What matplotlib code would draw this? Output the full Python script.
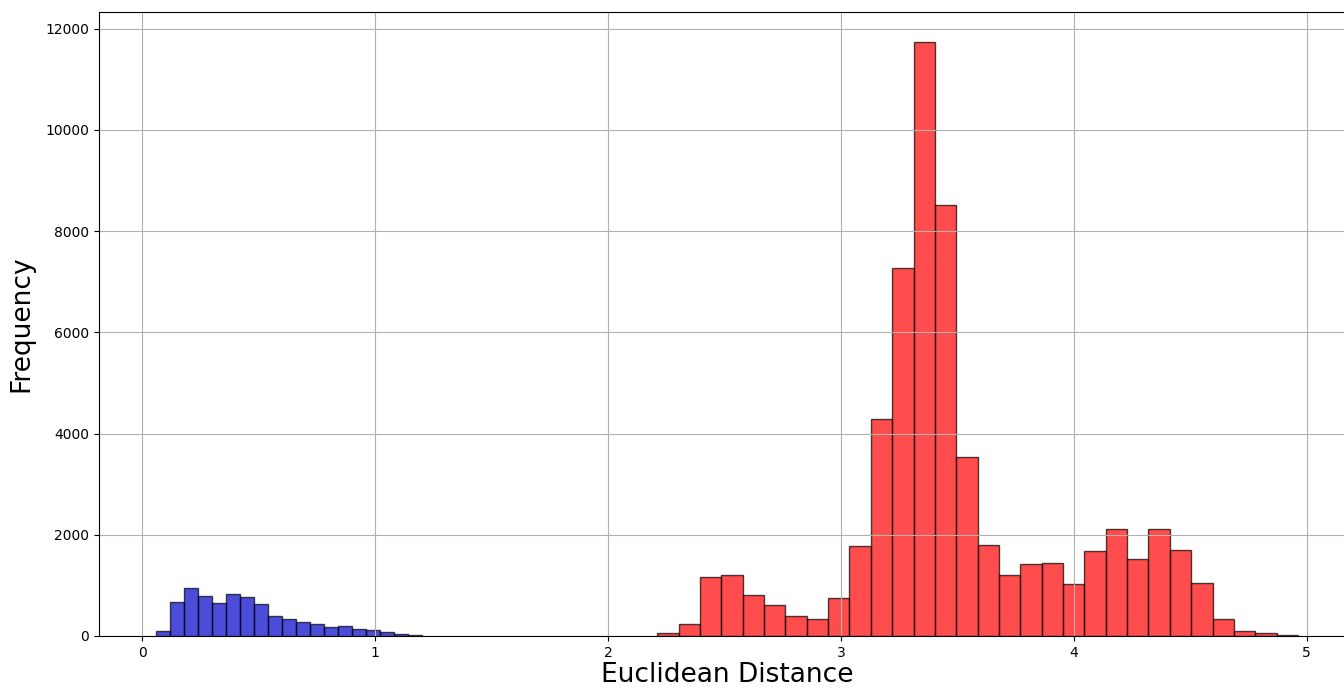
import numpy as np
import matplotlib.pyplot as plt

# histogram counts
blue_counts = [99, 679, 955, 791, 659, 830, 765, 639, 389, 343,
               283, 244, 178, 204, 138, 119, 86, 46, 13]
red_counts = [53, 237, 1160, 1206, 804, 613, 402, 343, 758, 1786,
              4290, 7276, 11744, 8521, 3539, 1805, 1206, 1430, 1450, 1034,
              1680, 2122, 1529, 2122, 1700, 1054, 343, 99, 53, 20]

blue_edges = np.linspace(0.06, 1.202, len(blue_counts) + 1)
red_edges = np.linspace(2.2116, 4.962, len(red_counts) + 1)

fig = plt.figure(figsize=(13.44, 6.88), dpi=100)
ax = fig.add_axes([0.0737, 0.0756, 0.9345, 0.907])

ax.hist(blue_edges[:-1], bins=blue_edges, weights=blue_counts,
        color='mediumblue', alpha=0.7, edgecolor='black')
ax.hist(red_edges[:-1], bins=red_edges, weights=red_counts,
        color='red', alpha=0.7, edgecolor='black')

ax.set_xlabel("Euclidean Distance", fontsize=19, labelpad=2)
ax.set_ylabel("Frequency", fontsize=19, labelpad=8)
ax.grid(True)

plt.savefig("out.png", dpi=100)
